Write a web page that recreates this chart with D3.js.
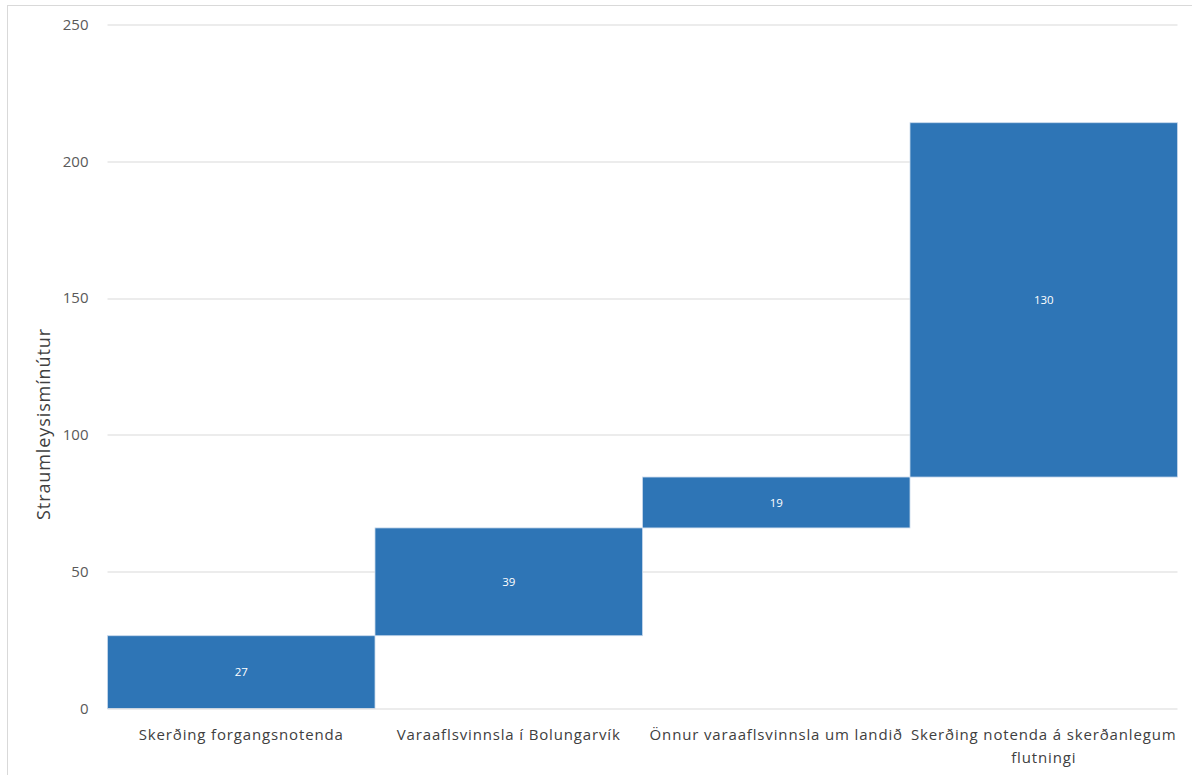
<!DOCTYPE html>
<html lang="is">

<head>
    <meta charset="utf-8">
    <script src="https://cdn.jsdelivr.net/npm/d3@7"></script>
    <style>
        body { margin: 0; background: #fff; }
        svg { display: block; }
    </style>
</head>

<body>
    <div id="my_dataviz"></div>

    <script>

        // data
        const categories = [
            "Skerðing forgangsnotenda",
            "Varaaflsvinnsla í Bolungarvík",
            "Önnur varaaflsvinnsla um landið",
            "Skerðing notenda á skerðanlegum flutningi"
        ];
        const values = [26.6, 39.4, 18.6, 129.5];
        const yTicks = [0, 50, 100, 150, 200, 250];
        const yTitle = "Straumleysismínútur";

        const svgWidth = 1192;
        const svgHeight = 775;
        const margin = { top: 24.5, right: 14.5, bottom: 66.5, left: 107.5 };
        const chartWidth = svgWidth - margin.left - margin.right;
        const chartHeight = svgHeight - margin.top - margin.bottom;
        const font = "'Open Sans', 'Noto Sans', sans-serif";

        // waterfall steps
        let running = 0;
        const steps = values.map((v, i) => {
            const s = { cat: categories[i], v: v, start: running, end: running + v };
            running += v;
            return s;
        });

        const svg = d3.select("#my_dataviz")
            .append("svg")
            .attr("width", svgWidth)
            .attr("height", svgHeight);

        // outer chart frame
        svg.append("rect")
            .attr("x", 7.5)
            .attr("y", 5.5)
            .attr("width", svgWidth)
            .attr("height", svgHeight)
            .attr("fill", "none")
            .attr("stroke", "#d9d9d9");

        const chart = svg.append("g")
            .attr("transform", `translate(${margin.left},${margin.top})`);

        const xScale = d3.scaleBand()
            .domain(categories)
            .range([0, chartWidth])
            .padding(0);

        const yScale = d3.scaleLinear()
            .domain([0, 250])
            .range([chartHeight, 0]);

        // gridlines
        chart.append("g")
            .selectAll("line")
            .data(yTicks.filter(d => d > 0))
            .enter()
            .append("line")
            .attr("x1", 0)
            .attr("x2", chartWidth)
            .attr("y1", d => Math.round(yScale(d)) + 0.5)
            .attr("y2", d => Math.round(yScale(d)) + 0.5)
            .attr("stroke", "#d9d9d9")
            .attr("stroke-width", 1);

        // y axis labels
        const yAxis = chart.append("g")
            .call(d3.axisLeft(yScale).tickValues(yTicks).tickSize(0).tickPadding(19));
        yAxis.select(".domain").remove();
        yAxis.selectAll("text")
            .style("font-family", font)
            .style("font-size", "15px")
            .attr("fill", "#595959");

        // bars
        chart.selectAll("rect.bar")
            .data(steps)
            .enter()
            .append("rect")
            .attr("class", "bar")
            .attr("x", d => xScale(d.cat))
            .attr("y", d => yScale(d.end))
            .attr("width", xScale.bandwidth())
            .attr("height", d => yScale(d.start) - yScale(d.end))
            .attr("fill", "#2e75b6")
            .attr("stroke", "#c9d9ec")
            .attr("stroke-width", 0.8);

        // value labels
        chart.selectAll("text.val")
            .data(steps)
            .enter()
            .append("text")
            .attr("class", "val")
            .attr("x", d => xScale(d.cat) + xScale.bandwidth() / 2)
            .attr("y", d => yScale((d.start + d.end) / 2))
            .attr("dy", "0.35em")
            .attr("text-anchor", "middle")
            .style("font-family", font)
            .style("font-size", "11.5px")
            .attr("fill", "#ffffff")
            .text(d => d3.format(".0f")(d.v));

        // x axis line
        chart.append("line")
            .attr("x1", 0)
            .attr("x2", chartWidth)
            .attr("y1", chartHeight + 0.5)
            .attr("y2", chartHeight + 0.5)
            .attr("stroke", "#d9d9d9");

        // category labels (last one wraps)
        const catLines = [
            [categories[0]],
            [categories[1]],
            [categories[2]],
            ["Skerðing notenda á skerðanlegum", "flutningi"]
        ];
        const catText = chart.selectAll("text.cat")
            .data(categories)
            .enter()
            .append("text")
            .attr("class", "cat")
            .attr("x", d => xScale(d) + xScale.bandwidth() / 2)
            .attr("y", chartHeight + 31)
            .attr("text-anchor", "middle")
            .style("font-family", font)
            .style("font-size", "15px")
            .style("letter-spacing", "0.85px")
            .attr("fill", "#404040");
        catText.each(function (d, i) {
            const t = d3.select(this);
            catLines[i].forEach((line, j) => {
                t.append("tspan")
                    .attr("x", xScale(d) + xScale.bandwidth() / 2)
                    .attr("dy", j === 0 ? 0 : 23)
                    .text(line);
            });
        });

        // y axis title
        svg.append("text")
            .attr("transform", `translate(50, ${margin.top + chartHeight * 0.584}) rotate(-90)`)
            .attr("text-anchor", "middle")
            .style("font-family", font)
            .style("font-size", "18px")
            .style("letter-spacing", "0.9px")
            .attr("fill", "#404040")
            .text(yTitle);

    </script>
</body>

</html>
